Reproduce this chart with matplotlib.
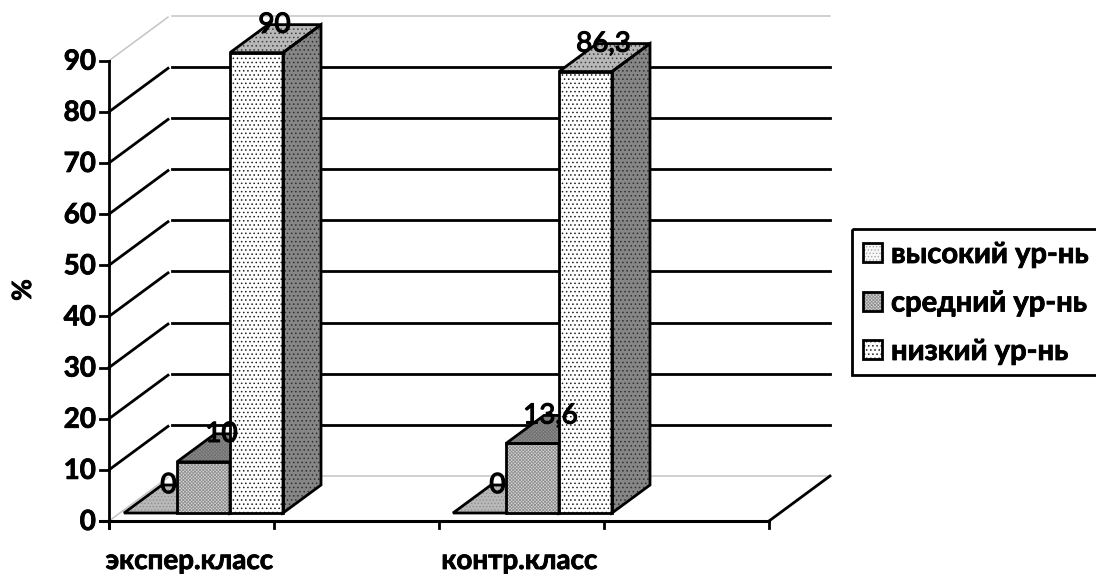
#!/usr/bin/env python3
"""
Pseudo-3D clustered bars: levels in two classes
"""

import matplotlib
matplotlib.use('Agg')
import matplotlib.pyplot as plt
import matplotlib.patheffects as pe
from matplotlib.patches import Polygon, Rectangle

classes = ['экспер.класс', '', 'контр.класс', '']
levels = ['высокий ур-нь', 'средний ур-нь', 'низкий ур-нь']
high = [0, 0]
medium = [10, 13.6]
low = [90, 86.3]
value_labels = [['0', '10', '90'], ['0', '13,6', '86,3']]
y_ticks = [0, 10, 20, 30, 40, 50, 60, 70, 80, 90]

FONT = ['Lato', 'Open Sans', 'DejaVu Sans']
plt.rcParams['font.family'] = FONT
plt.rcParams['hatch.linewidth'] = 0.6

# projection, in picture pixels
UNIT = 5.115
WALL_L, WALL_R = 109, 769
AXIS_Y = 521
DEPTH_X, DEPTH_Y = 61, -45
BAR_BASE = 513
BAR_W = 53
BAR_DX, BAR_DY = 38, -28
GROUP_X = [124, 453]
THICK = [pe.withStroke(linewidth=0.6, foreground='black')]

# (front, top, side) fills for each series: face, hatch colour, hatch
STYLES = [
    (('#f8f8f8', '#a8a8a8', '.....'), ('#b8b8b8', '#909090', '.....'), ('#808080', '#606060', '.....')),
    (('#d8d8d8', '#909090', 'xxxxxxxxxx'), ('#909090', '#707070', 'xxxxxxxxxx'), ('#666666', '#505050', 'xxxxxxxxxx')),
    (('#ffffff', '#202020', '....'), ('#b8b8b8', '#404040', '....'), ('#868686', '#303030', '....')),
]


def fy(v):
    return AXIS_Y - v * UNIT


def by(v):
    return BAR_BASE - v * UNIT


def fill(ax, pts, style, z):
    face, hatch_col, hatch = style
    ax.add_patch(Polygon(pts, closed=True, facecolor=face, edgecolor=hatch_col,
                         hatch=hatch, linewidth=0, zorder=z))


def draw_bar(ax, x, v, style, z):
    front, top, side = style
    xr = x + BAR_W
    yt = by(v)
    yb = BAR_BASE
    top_pts = [(x, yt), (xr, yt), (xr + BAR_DX, yt + BAR_DY), (x + BAR_DX, yt + BAR_DY)]
    side_pts = [(xr, yt), (xr + BAR_DX, yt + BAR_DY), (xr + BAR_DX, yb + BAR_DY), (xr, yb)]
    front_pts = [(x, yt), (xr, yt), (xr, yb), (x, yb)]
    fill(ax, top_pts, top, z)
    parts = [top_pts]
    if v > 0:
        fill(ax, side_pts, side, z)
        fill(ax, front_pts, front, z)
        parts += [side_pts, front_pts]
    for pts in parts:
        ax.add_patch(Polygon(pts, closed=True, fill=False, edgecolor='black',
                             linewidth=2, joinstyle='miter', zorder=z + 0.2))


fig = plt.figure(figsize=(10.96, 5.74), dpi=100)
ax = fig.add_axes([0, 0, 1, 1])
ax.set_xlim(0, 1096)
ax.set_ylim(574, 0)
ax.axis('off')

# walls and grid
for t in y_ticks:
    y = fy(t)
    back = y + DEPTH_Y
    col = 'black' if 0 < t < 90 else '#c4c4c4'
    lw = 2 if 0 < t < 90 else 1.1
    ax.plot([WALL_L, WALL_L + DEPTH_X - 2], [y, back + 1.5], color=col, lw=lw, zorder=1)
    ax.plot([WALL_L + DEPTH_X + 2, WALL_R + DEPTH_X], [back, back], color=col, lw=lw, zorder=1)
    ax.plot([WALL_L - 9, WALL_L], [y, y], color='black', lw=2, zorder=3)
    ax.text(WALL_L - 13, y + 1, str(t), ha='right', va='center', fontsize=20,
            fontweight='bold', zorder=5, path_effects=THICK)
ax.plot([WALL_R, WALL_R + DEPTH_X], [AXIS_Y, AXIS_Y + DEPTH_Y], color='black', lw=2, zorder=1)

# axes
ax.plot([WALL_L, WALL_L], [fy(90), AXIS_Y + 7], color='black', lw=2, zorder=3)
ax.plot([WALL_L - 9, WALL_R], [AXIS_Y, AXIS_Y], color='black', lw=2.2, zorder=3)
step = (WALL_R - WALL_L) / len(classes)
for i, c in enumerate(classes):
    tx = WALL_L + i * step
    ax.plot([tx, tx], [AXIS_Y, AXIS_Y + 7], color='black', lw=2, zorder=3)
    ax.text(tx + step / 2 - 2, 561, c, ha='center', va='center', fontsize=20,
            fontweight='bold', zorder=5, path_effects=THICK)
ax.plot([WALL_R, WALL_R], [AXIS_Y, AXIS_Y + 7], color='black', lw=2, zorder=3)
ax.text(23, 290, '%', rotation=90, ha='center', va='center', fontsize=19,
        fontweight='bold', zorder=5, path_effects=THICK)

# bars
series = [high, medium, low]
for g, gx in enumerate(GROUP_X):
    for s, vals in enumerate(series):
        x = gx + s * BAR_W
        draw_bar(ax, x, vals[g], STYLES[s], 4 + s * 0.5)
for g, gx in enumerate(GROUP_X):
    for s, vals in enumerate(series):
        x = gx + s * BAR_W
        ax.text(x + BAR_W / 2 + 18, by(vals[g]) + BAR_DY, value_labels[g][s],
                ha='center', va='center', fontsize=20, zorder=8,
                path_effects=[pe.withStroke(linewidth=0.9, foreground='black')])

# legend, cut by the picture edge on the right
ax.add_patch(Rectangle((852, 229), 260, 146, fill=False, edgecolor='black', lw=2, zorder=5))
for i, name in enumerate(levels):
    ly = 253 + i * 48.5
    front = STYLES[i][0]
    ax.add_patch(Rectangle((863, ly - 10), 19, 19, facecolor=front[0], edgecolor=front[1],
                           hatch=front[2], linewidth=0, zorder=5))
    ax.add_patch(Rectangle((863, ly - 10), 19, 19, fill=False, edgecolor='black', lw=2, zorder=6))
    ax.text(891, ly + 2, name, ha='left', va='center', fontsize=21, fontweight='bold',
            zorder=6, path_effects=THICK)

fig.savefig('out.png', dpi=100)
plt.close(fig)
